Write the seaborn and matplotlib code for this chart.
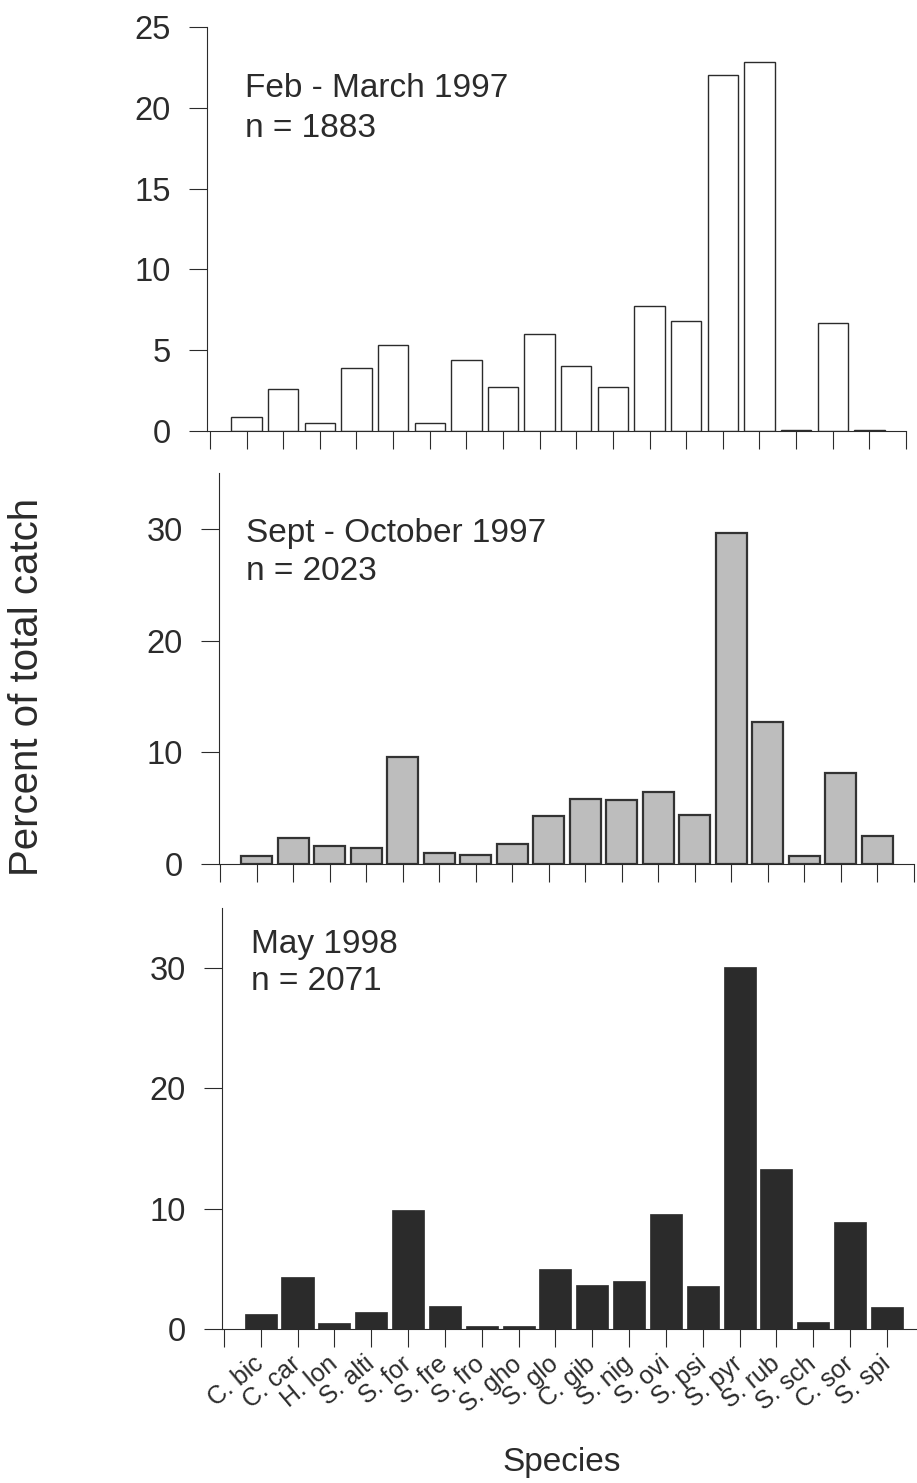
import matplotlib
matplotlib.use("Agg")
import matplotlib.pyplot as plt
import seaborn as sns
import pandas as pd

species = ["C. bic", "C. car", "H. lon", "S. alti", "S. for", "S. fre", "S. fro",
           "S. gho", "S. glo", "C. gib", "S. nig", "S. ovi", "S. psi", "S. pyr",
           "S. rub", "S. sch", "C. sor", "S. spi"]

feb_mar_1997 = [0.86, 2.61, 0.51, 3.89, 5.35, 0.51, 4.42, 2.70, 6.01, 4.01,
                2.74, 7.74, 6.79, 22.0, 22.85, 0.05, 6.69, 0.05]
sep_oct_1997 = [0.71, 2.31, 1.60, 1.45, 9.62, 0.95, 0.77, 1.83, 4.26, 5.86,
                5.74, 6.42, 4.38, 29.64, 12.72, 0.71, 8.17, 2.51]
may_1998 = [1.27, 4.36, 0.50, 1.38, 9.86, 1.91, 0.28, 0.22, 4.97, 3.67,
            3.95, 9.59, 3.54, 30.06, 13.31, 0.61, 8.92, 1.80]

panel_titles = ["Feb - March 1997", "Sept - October 1997", "May 1998"]
panel_n = ["n = 1883", "n = 2023", "n = 2071"]
y_ticks_top = [0, 5, 10, 15, 20, 25]
y_ticks_lower = [0, 10, 20, 30]

sns.set_style("ticks")
plt.rcParams["font.family"] = ["Liberation Sans", "DejaVu Sans"]
INK = "#2b2b2b"
plt.rcParams["text.color"] = INK
plt.rcParams["axes.edgecolor"] = INK
plt.rcParams["xtick.color"] = INK
plt.rcParams["ytick.color"] = INK

W, H = 917, 1483
fig = plt.figure(figsize=(W / 100, H / 100), dpi=100)

def px_rect(left, right, top, bottom):
    return [left / W, 1 - bottom / H, (right - left) / W, (bottom - top) / H]

order = [""] + species

panels = [
    dict(vals=feb_mar_1997, rect=px_rect(207, 906, 27, 431), xlim=(-0.08, 19.0),
         ylim=(0, 25), yticks=y_ticks_top, nticks=20, color="white",
         edge=INK, lw=1.0, width=0.83,
         text_x=245, base1=97, base2=137),
    dict(vals=sep_oct_1997, rect=px_rect(219, 914, 473, 864), xlim=(-0.03, 19.0),
         ylim=(0, 35), yticks=y_ticks_lower, nticks=20, color="#bdbdbd",
         edge="#333333", lw=1.6, width=0.85,
         text_x=246, base1=542, base2=580),
    dict(vals=may_1998, rect=px_rect(222, 916, 908, 1329), xlim=(-0.05, 18.79),
         ylim=(0, 35), yticks=y_ticks_lower, nticks=19, color="#2b2b2b",
         edge="#2b2b2b", lw=0.5, width=0.87,
         text_x=251, base1=953, base2=990),
]

for i, p in enumerate(panels):
    ax = fig.add_axes(p["rect"])
    df = pd.DataFrame({"species": species, "pct": p["vals"]})
    sns.barplot(data=df, x="species", y="pct", order=order, ax=ax,
                color=p["color"], saturation=1, edgecolor=p["edge"],
                linewidth=p["lw"], width=p["width"], errorbar=None)
    ax.set_xlim(*p["xlim"])
    ax.set_ylim(*p["ylim"])
    ax.set_yticks(p["yticks"])
    ax.set_yticklabels([str(t) for t in p["yticks"]], fontsize=23.5)
    ax.set_xticks(list(range(p["nticks"])))
    if i == 2:
        ax.set_xticklabels([""] + species, rotation=40, ha="right",
                           va="center", rotation_mode="anchor", fontsize=18)
    else:
        ax.set_xticklabels([""] * p["nticks"])
    ax.tick_params(axis="both", direction="out", length=13, width=0.8)
    ax.tick_params(axis="y", pad=13)
    ax.tick_params(axis="x", pad=10)
    ax.set_xlabel("")
    ax.set_ylabel("")
    for s in ["top", "right"]:
        ax.spines[s].set_visible(False)
    for s in ["left", "bottom"]:
        ax.spines[s].set_linewidth(0.8)
    fig.text(p["text_x"] / W, 1 - p["base1"] / H, panel_titles[i],
             fontsize=24, va="baseline", ha="left")
    fig.text(p["text_x"] / W, 1 - p["base2"] / H, panel_n[i],
             fontsize=24, va="baseline", ha="left")

fig.text(27.5 / W, 1 - 687 / H, "Percent of total catch", rotation=90,
         fontsize=29, ha="center", va="center")
fig.text(562 / W, 1 - 1463 / H, "Species", fontsize=24, ha="center", va="center")

fig.savefig("out.png", dpi=100, facecolor="white")
